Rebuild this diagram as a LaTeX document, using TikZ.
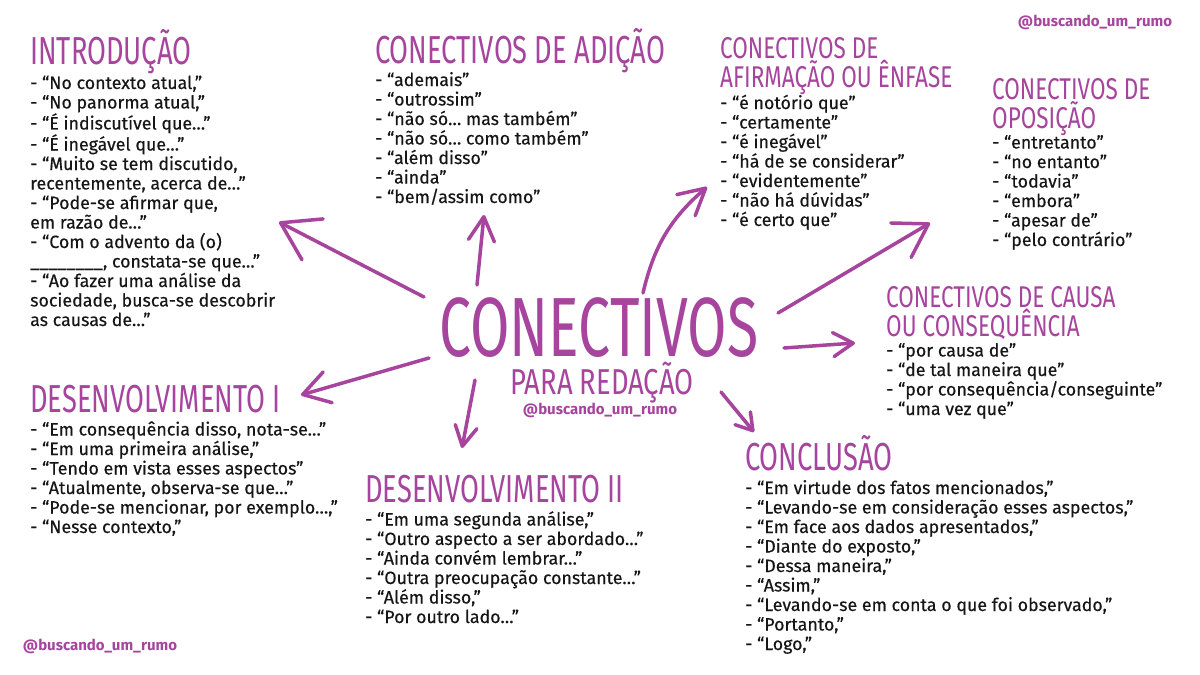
\documentclass[tikz,border=0pt]{standalone}
\usepackage{fontspec}
\usepackage{graphicx}
\setmainfont{Fira Sans}
\newfontfamily\corpo{Fira Sans}[FakeBold=0.35]
\usetikzlibrary{arrows.meta}

\definecolor{roxo}{RGB}{166,68,158}
\definecolor{texto}{RGB}{22,22,22}

% titulos estreitos
\newcommand{\estreito}[2][0.70]{\scalebox{#1}[1]{#2}}

\tikzset{
  titulo/.style={anchor=base west, inner sep=0pt, text=roxo, align=left,
    font=\fontsize{30}{29}\selectfont},
  titulogrande/.style={titulo, font=\fontsize{39}{39}\selectfont},
  lista/.style={anchor=base west, inner sep=0pt, text=texto, align=left,
    font=\corpo\fontsize{17.8}{19.5}\selectfont},
  perfil/.style={inner sep=0pt, text=roxo, font=\fontsize{15}{15}\selectfont\bfseries},
  seta/.style 2 args={draw=roxo, line width=3.5pt, line cap=round,
    -{Straight Barb[length=#1, width=#2, round]}}
}

\begin{document}
\begin{tikzpicture}[x=1pt, y=-1pt]
\useasboundingbox (0,0) rectangle (1200,675);
\fill[white] (0,0) rectangle (1200,675);

% centro
\node[inner sep=0pt, anchor=base, text=roxo, font=\fontsize{84}{84}\selectfont] (titulo) at (599,356) {\estreito[0.68]{CONECTIVOS}};
\node[inner sep=0pt, anchor=base, text=roxo, font=\fontsize{36}{36}\selectfont] (subtitulo) at (602,394) {\estreito[0.76]{PARA REDAÇÃO}};
\node[perfil] (perfil-centro) at (600,410) {@buscando\_um\_rumo};
\node[perfil] (perfil-topo) at (1095,22) {@buscando\_um\_rumo};
\node[perfil] (perfil-base) at (100,646) {@buscando\_um\_rumo};

% introducao (ancora na ultima linha)
\node[titulogrande] (introducao) at (30,64) {\estreito{INTRODUÇÃO}};
\node[lista] (l-introducao) at (30,326) {- “No contexto atual,”\\
- “No panorma atual,”\\
- “É indiscutível que…”\\
- “É inegável que…”\\
- “Muito se tem discutido,\\
recentemente, acerca de…”\\
- “Pode-se afirmar que,\\
em razão de…”\\
- “Com o advento da (o)\\
\_\_\_\_\_\_\_\_, constata-se que…”\\
- “Ao fazer uma análise da\\
sociedade, busca-se descobrir\\
as causas de…”};

% adicao
\node[titulogrande] (adicao) at (375,63) {\estreito{CONECTIVOS DE ADIÇÃO}};
\node[lista] (l-adicao) at (375,203) {- “ademais”\\
- “outrossim”\\
- “não só… mas também”\\
- “não só… como também”\\
- “além disso”\\
- “ainda”\\
- “bem/assim como”};

% afirmacao
\node[titulo] (afirmacao) at (720,87) {\estreito[0.75]{CONECTIVOS DE}\\\estreito[0.75]{AFIRMAÇÃO OU ÊNFASE}};
\node[lista] (l-afirmacao) at (720,226) {- “é notório que”\\
- “certamente”\\
- “é inegável”\\
- “há de se considerar”\\
- “evidentemente”\\
- “não há dúvidas”\\
- “é certo que”};

% oposicao
\node[titulo] (oposicao) at (992,128) {\estreito[0.75]{CONECTIVOS DE}\\\estreito[0.75]{OPOSIÇÃO}};
\node[lista] (l-oposicao) at (992,246) {- “entretanto”\\
- “no entanto”\\
- “todavia”\\
- “embora”\\
- “apesar de”\\
- “pelo contrário”};

% causa
\node[titulo] (causa) at (886,336) {\estreito[0.75]{CONECTIVOS DE CAUSA}\\\estreito[0.75]{OU CONSEQUÊNCIA}};
\node[lista] (l-causa) at (886,415) {- “por causa de”\\
- “de tal maneira que”\\
- “por consequência/conseguinte”\\
- “uma vez que”};

% desenvolvimento I
\node[titulogrande] (desenv1) at (30,412) {\estreito{DESENVOLVIMENTO I}};
\node[lista] (l-desenv1) at (30,533) {- “Em consequência disso, nota-se…”\\
- “Em uma primeira análise,”\\
- “Tendo em vista esses aspectos”\\
- “Atualmente, observa-se que…”\\
- “Pode-se mencionar, por exemplo…,”\\
- “Nesse contexto,”};

% desenvolvimento II
\node[titulogrande] (desenv2) at (365,502) {\estreito{DESENVOLVIMENTO II}};
\node[lista] (l-desenv2) at (365,623) {- “Em uma segunda análise,”\\
- “Outro aspecto a ser abordado…”\\
- “Ainda convém lembrar…”\\
- “Outra preocupação constante…”\\
- “Além disso,”\\
- “Por outro lado…”};

% conclusao
\node[titulogrande] (conclusao) at (745,470) {\estreito{CONCLUSÃO}};
\node[lista] (l-conclusao) at (745,650) {- “Em virtude dos fatos mencionados,”\\
- “Levando-se em consideração esses aspectos,”\\
- “Em face aos dados apresentados,”\\
- “Diante do exposto,”\\
- “Dessa maneira,”\\
- “Assim,”\\
- “Levando-se em conta o que foi observado,”\\
- “Portanto,”\\
- “Logo,”};

% setas
\coordinate (c-introducao) at (424,297);
\coordinate (p-introducao) at (279,222);
\coordinate (c-adicao) at (477,285);
\coordinate (p-adicao) at (484,215);
\coordinate (c-afirmacao) at (643,293);
\coordinate (p-afirmacao) at (707,187);
\coordinate (c-oposicao) at (778,313);
\coordinate (p-oposicao) at (930,223);
\coordinate (c-causa) at (784,348);
\coordinate (p-causa) at (855,343);
\coordinate (c-conclusao) at (721,392);
\coordinate (p-conclusao) at (754,432);
\coordinate (c-desenv2) at (475,380);
\coordinate (p-desenv2) at (462,448);
\coordinate (c-desenv1) at (429,358);
\coordinate (p-desenv1) at (301,395);

\draw[seta={36pt}{46pt}] (c-introducao) -- (p-introducao);
\draw[seta={24pt}{26pt}] (c-adicao) -- (p-adicao);
\draw[seta={26pt}{28pt}] (c-afirmacao) to[bend left=18] (p-afirmacao);
\draw[seta={32pt}{40pt}] (c-oposicao) -- (p-oposicao);
\draw[seta={20pt}{24pt}] (c-causa) -- (p-causa);
\draw[seta={16pt}{20pt}] (c-conclusao) -- (p-conclusao);
\draw[seta={20pt}{22pt}] (c-desenv2) -- (p-desenv2);
\draw[seta={26pt}{32pt}] (c-desenv1) -- (p-desenv1);
\end{tikzpicture}
\end{document}
